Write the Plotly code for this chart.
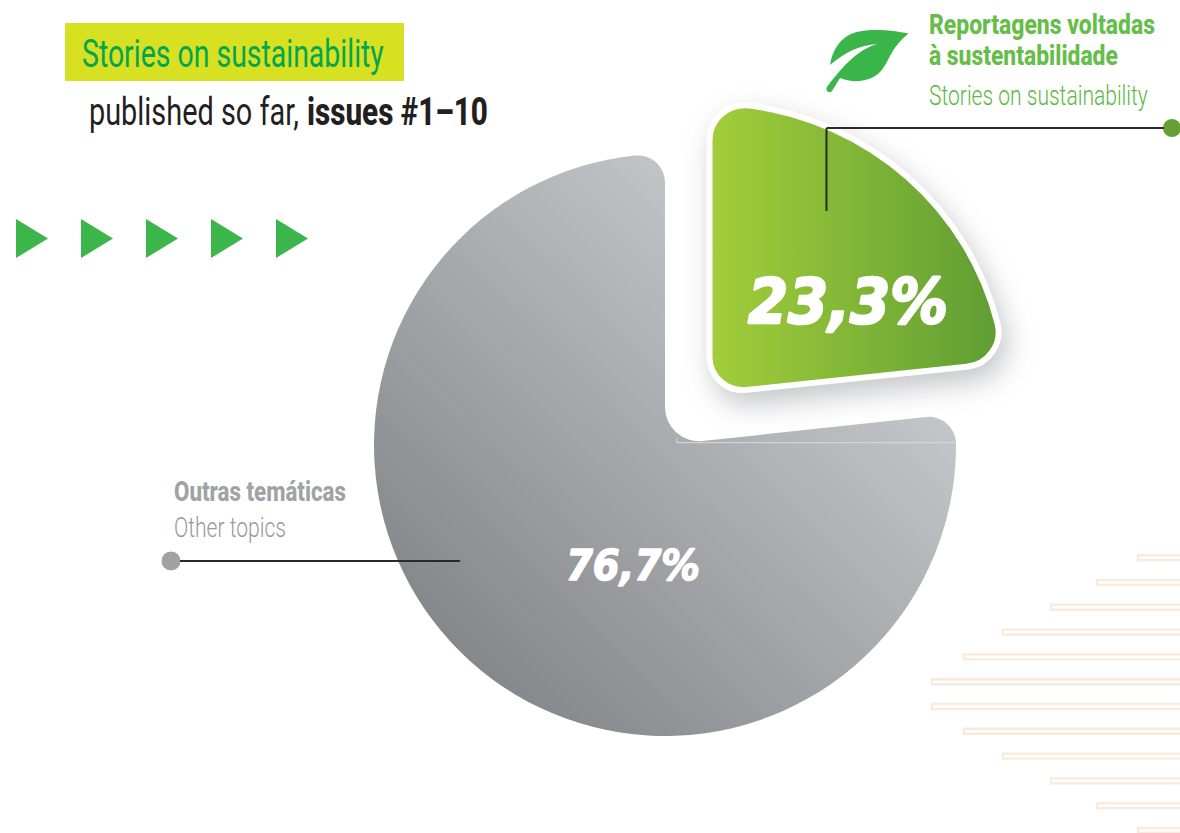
import json
import plotly.graph_objects as go

# Share of stories by theme, issues #1-10
SLICE_NAMES = ["Reportagens voltadas à sustentabilidade", "Outras temáticas"]
SLICE_VALUES = [23.3, 76.7]

CANVAS_W, CANVAS_H = 1180, 833
PIE_CX, PIE_CY, PIE_R = 665, 445, 291
PULL = 0.2365
BODY_FONT = "Roboto"

# Decorative stripe start positions, top to bottom
STRIPE_STARTS = [1137, 1096, 1050, 1002, 963, 931, 931, 963, 1002, 1050, 1096, 1137]
STRIPE_TOP, STRIPE_STEP = 557.7, 24.8
ARROW_LEFTS = [16, 81, 146, 211, 276]

half_box = PIE_R * (1 + PULL)
domain_x = [(PIE_CX - half_box) / CANVAS_W, (PIE_CX + half_box) / CANVAS_W]
domain_y = [1 - (PIE_CY + half_box) / CANVAS_H, 1 - (PIE_CY - half_box) / CANVAS_H]


def pct(v):
    return f"{v:.1f}".replace(".", ",") + "%"


fig = go.Figure()

# Leader dots also anchor the pixel-based axes
fig.add_trace(go.Scatter(
    x=[1172, 171], y=[128, 561], mode="markers", hoverinfo="skip", showlegend=False,
    marker=dict(size=[19, 20], color=["#639f32", "#a0a3a3"], opacity=1),
))
fig.add_trace(go.Pie(
    labels=SLICE_NAMES, values=SLICE_VALUES, sort=False, direction="clockwise", rotation=0,
    pull=[PULL, 0], textinfo="none", hoverinfo="skip", showlegend=False,
    domain=dict(x=domain_x, y=domain_y),
    marker=dict(colors=["#80b536", "#a8a9ad"], line=dict(color=["#ffffff", "#ffffff"], width=[6, 0])),
))

shapes = []
for i, start in enumerate(STRIPE_STARTS):
    yc = STRIPE_TOP + i * STRIPE_STEP
    shapes.append(dict(type="rect", layer="below", x0=start + 1, x1=CANVAS_W + 6, y0=yc - 2.5, y1=yc + 2.5,
                       line=dict(color="#f9eadc", width=2.4), fillcolor="#ffffff"))

# Title banner
shapes.append(dict(type="rect", layer="below", x0=65, x1=404, y0=23, y1=81,
                   fillcolor="#d7e021", line=dict(width=0)))

for left in ARROW_LEFTS:
    shapes.append(dict(type="path", layer="below", path=f"M{left},219 L{left + 32},238.5 L{left},258 Z",
                       fillcolor="#3cb54a", line=dict(width=0)))

# Leaf icon
shapes.append(dict(
    type="path", layer="below", fillcolor="#39b54a", line=dict(width=0),
    path=("M908.5,33.5 C890,29.5 862,27.5 849,35 C838,41 832,52 830,65 "
          "C845,52 860,45 877,44 C857,50 843,66 827,87 C825,91 829,94 832,91 L840,78 "
          "C852,83 870,83 881,71 C891,59 889,50 908.5,33.5 Z"),
))

# Hairline left along the notch of the grey slice
shapes.append(dict(type="path", layer="above", path="M677,438 L677,442.7 L955,442.7",
                   line=dict(color="#d9dadc", width=1)))

# Leader lines
LINE = dict(color="#2b2a2b", width=2)
shapes.append(dict(type="line", layer="above", x0=826.5, x1=1164, y0=128, y1=128, line=LINE))
shapes.append(dict(type="line", layer="above", x0=826.5, x1=826.5, y0=128, y1=211, line=LINE))
shapes.append(dict(type="line", layer="above", x0=180, x1=460, y0=561, y1=561, line=LINE))


def label(x, y, text, size, color, family=BODY_FONT, **font):
    return dict(x=x - 2, y=y, xref="x", yref="y", text=text, showarrow=False, xanchor="left", yanchor="middle",
                align="left", font=dict(family=family, size=size, color=color, **font))


annotations = [
    label(82, 54, "Stories on sustainability", 38, "#00a651"),
    label(89, 112, "published so far,", 38, "#231f20"),
    label(307, 112, "issues #1–10", 38, "#231f20", weight=800),
    label(929, 25, "Reportagens voltadas", 27, "#66bd4a", weight=800),
    label(929, 56, "à sustentabilidade", 27, "#66bd4a", weight=800),
    label(929, 95, "Stories on sustainability", 28, "#5cb83f", weight=300),
    label(174, 492, "Outras temáticas", 27, "#a0a3a3", weight=800),
    label(174, 527, "Other topics", 28, "#979a9a", weight=300),
    label(748, 301, pct(SLICE_VALUES[0]), 62, "#ffffff", "DejaVu Sans", weight=700, style="italic"),
    label(566, 565, pct(SLICE_VALUES[1]), 43, "#ffffff", "DejaVu Sans", weight=700, style="italic"),
]
# Set widths of the labels above, in the same order, and extra heft for the two percentages
LABEL_WIDTHS = [302, 210, 181, 226, 189, 219, 172, 112, 200, 134]
LABEL_HEFT = [0, 0, 0, 0, 0, 0, 0, 0, 2.5, 1.5]

fig.update_layout(
    width=CANVAS_W, height=CANVAS_H, margin=dict(l=0, r=0, t=0, b=0),
    paper_bgcolor="#ffffff", plot_bgcolor="rgba(0,0,0,0)",
    xaxis=dict(range=[0, CANVAS_W], visible=False, fixedrange=True),
    yaxis=dict(range=[CANVAS_H, 0], visible=False, fixedrange=True),
    shapes=shapes, annotations=annotations,
)

# Rounds the slice corners from the geometry Plotly computed, applies the gradients
# and condenses the labels to their set widths
POST_SCRIPT = """
(function () {
  var gd = document.getElementById('{plot_id}');
  var NS = 'http://www.w3.org/2000/svg';
  var svg = gd.querySelector('.main-svg');
  var defs = document.createElementNS(NS, 'defs');
  function gradient(id, x1, y1, x2, y2, stops) {
    var g = document.createElementNS(NS, 'linearGradient');
    g.setAttribute('id', id);
    g.setAttribute('x1', x1); g.setAttribute('y1', y1);
    g.setAttribute('x2', x2); g.setAttribute('y2', y2);
    stops.forEach(function (s) {
      var st = document.createElementNS(NS, 'stop');
      st.setAttribute('offset', s[0]); st.setAttribute('stop-color', s[1]);
      g.appendChild(st);
    });
    defs.appendChild(g);
  }
  gradient('sliceGreen', 0, 0, 1, 0, [[0, '#a3ce3a'], [1, '#5f9d33']]);
  gradient('sliceGrey', 0.12, 0.85, 0.76, 0.2, [[0, '#85868a'], [1, '#c6c7ca']]);
  svg.insertBefore(defs, svg.firstChild);

  var pieCd = gd.calcdata.filter(function (c) { return c[0].trace.type === 'pie'; })[0];
  var cd0 = pieCd[0], R = cd0.r, pull = cd0.trace.pull;
  var corners = [[35, 33], [27, 34]];
  var stretch = [1.02, 1], nudge = [-1.5, 0];
  var fills = ['url(#sliceGreen)', 'url(#sliceGrey)'];
  function ang(v) { return Math.atan2(v[0], -v[1]); }

  gd.querySelectorAll('.pielayer path.surface').forEach(function (path, i) {
    var pt = pieCd[i];
    var cx = cd0.cx + pull[i] * pt.pxmid[0] + nudge[i], cy = cd0.cy + pull[i] * pt.pxmid[1];
    var a0 = ang(pt.px0), a1 = ang(pt.px1);
    while (a1 <= a0) a1 += 2 * Math.PI;
    var span = a1 - a0, c = corners[i][0], ca = corners[i][1], s = stretch[i];
    var at = function (a, d) { return (cx + s * d * Math.sin(a)).toFixed(2) + ' ' + (cy - d * Math.cos(a)).toFixed(2); };
    var arc = function (r, big, sweep, a, d) { return 'A' + (r * s) + ' ' + r + ' 0 ' + big + ' ' + sweep + ' ' + at(a, d); };
    var d0 = Math.sqrt((R - c) * (R - c) - c * c), dl = Math.asin(c / (R - c));
    var reflex = span > Math.PI;
    var half = reflex ? Math.PI - span / 2 : span / 2;
    var da = ca / Math.tan(half);
    var big = span - 2 * dl > Math.PI ? 1 : 0;
    var d = 'M' + at(a0, da) + 'L' + at(a0, d0) +
      arc(c, 0, 1, a0 + dl, R) + arc(R, big, 1, a1 - dl, R) + arc(c, 0, 1, a1, d0) +
      'L' + at(a1, da) + arc(ca, 0, reflex ? 0 : 1, a0, da) + 'Z';
    path.setAttribute('d', d);
    path.style.fill = fills[i];
    if (i === 0) path.style.filter = 'drop-shadow(6px 12px 14px rgba(80,82,90,0.33))';
  });

  var widths = __WIDTHS__, heft = __HEFT__;
  gd.querySelectorAll('.annotation').forEach(function (group, i) {
    var t = group.querySelector('.annotation-text');
    var bg = group.querySelector('rect.bg');
    var x = parseFloat(t.getAttribute('x')) || 0;
    var sx = widths[i] / t.getComputedTextLength();
    t.setAttribute('transform', 'translate(' + x + ' 0) scale(' + sx + ' 1) translate(' + (-x) + ' 0)');
    if (bg) bg.setAttribute('width', parseFloat(bg.getAttribute('width')) * sx);
    if (heft[i]) {
      t.style.stroke = '#ffffff';
      t.style.strokeWidth = heft[i] + 'px';
      t.style.strokeLinejoin = 'round';
    }
  });
})();
""".replace("__WIDTHS__", json.dumps(LABEL_WIDTHS)).replace("__HEFT__", json.dumps(LABEL_HEFT))

fig.write_html("out.html", post_script=POST_SCRIPT, config=dict(displayModeBar=False, staticPlot=True))
